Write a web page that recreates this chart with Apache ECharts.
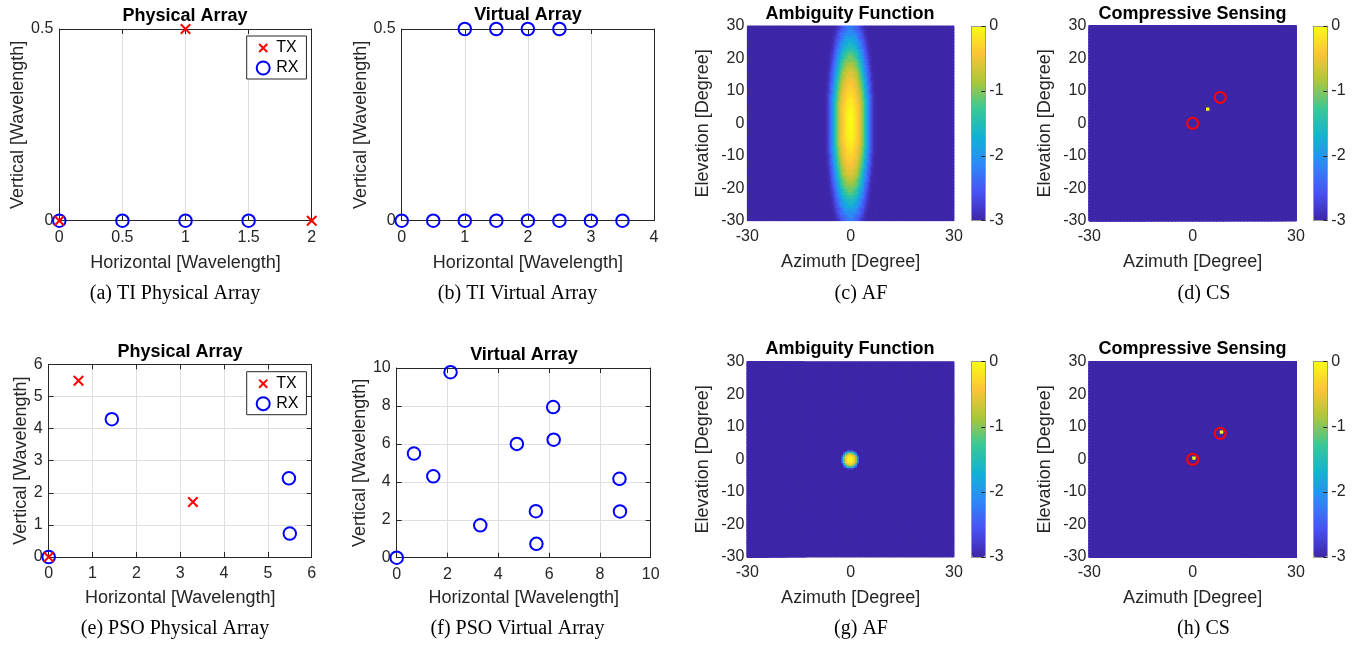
<!DOCTYPE html>
<html><head><meta charset="utf-8">
<script src="https://cdn.jsdelivr.net/npm/echarts@6/dist/echarts.min.js"></script>
<style>html,body{margin:0;padding:0;background:#fff}#c{width:1363px;height:646px}</style>
</head><body><div id="c"></div><script>
// ================= DATA =================
// (a) TI physical array
const tiTxX = [0, 1, 2];
const tiTxY = [0, 0.5, 0];
const tiRxX = [0, 0.5, 1, 1.5];
const tiRxY = [0, 0, 0, 0];
// (b) TI virtual array
const tiVirtX = [0, 0.5, 1, 1.5, 2, 2.5, 3, 3.5, 1, 1.5, 2, 2.5];
const tiVirtY = [0, 0, 0, 0, 0, 0, 0, 0, 0.5, 0.5, 0.5, 0.5];
// (e) PSO physical array
const psoTxX = [0, 0.68, 3.29];
const psoTxY = [0, 5.49, 1.71];
const psoRxX = [0, 1.44, 5.48, 5.50];
const psoRxY = [0, 4.29, 2.45, 0.73];
// (f) PSO virtual array
const psoVirtX = [0, 0.68, 1.44, 2.12, 3.29, 4.73, 5.48, 5.50, 6.16, 6.18, 8.77, 8.79];
const psoVirtY = [0, 5.49, 4.29, 9.78, 1.71, 6.00, 2.45, 0.73, 7.94, 6.22, 4.16, 2.44];

// tick labels
const tiPhysXTicks = [0, 0.5, 1, 1.5, 2];
const tiPhysYTicks = [0, 0.5];
const tiVirtXTicks = [0, 1, 2, 3, 4];
const tiVirtYTicks = [0, 0.5];
const psoPhysXTicks = [0, 1, 2, 3, 4, 5, 6];
const psoPhysYTicks = [0, 1, 2, 3, 4, 5, 6];
const psoVirtXTicks = [0, 2, 4, 6, 8, 10];
const psoVirtYTicks = [0, 2, 4, 6, 8, 10];
const angXTicks = [-30, 0, 30];
const angYTicks = [-30, -20, -10, 0, 10, 20, 30];
const cbTicks = [-3, -2, -1, 0];

// (c) AF of TI array: level vs. elliptical radius (azimuth-equivalent degrees, 0.25 deg bins),
//     contours are ellipses stretched in elevation by afTiElStretch
const afTiProfile = [0, -0.01, -0.03, -0.06, -0.1, -0.15, -0.21, -0.28, -0.35, -0.42, -0.5, -0.58, -0.67, -0.78,
                     -0.9, -1.04, -1.2, -1.38, -1.56, -1.74, -1.92, -2.08, -2.24, -2.39, -2.53, -2.66, -2.78, -2.88,
                     -2.94, -2.98];
const afTiElStretch = [5.2];
// (g) AF of PSO array: level vs. radius (0.25 deg bins)
const afPsoProfile = [0, -0.02, -0.06, -0.13, -0.25, -0.42, -0.65, -1.0, -1.5, -2.1, -2.7];
const afPsoElStretch = [1.07];
// (d),(h) compressive sensing peaks (deg) and true targets
const csTiPeakAz = [4.5];
const csTiPeakEl = [4.5];
const csPsoPeakAz = [0.5, 8.5];
const csPsoPeakEl = [0.5, 8.5];
const targetAz = [0, 8];
const targetEl = [0, 8];
const floorLevel = -3;

// ================= STYLE / LAYOUT =================
const FONT = '"Liberation Sans", Arial, Helvetica, sans-serif';
const SERIF = '"Liberation Serif", "Times New Roman", serif';
const AXC = '#262626';
const CBB = '#9a9a9a';
const PARULA = ['#3e26a8', '#4852f4', '#2e87f7', '#12b1d6', '#37c897', '#abc739', '#fec338', '#f9fb15'];
const CROSS = 'path://M0,0L10,10M0,10L10,0';
const CROSS_LEG = 'path://M-3,-3M0,0L10,10M0,10L10,0M13,13';

const grids = [], xAxes = [], yAxes = [], series = [], visualMaps = [], graphics = [];

const zip = (xs, ys) => xs.map((x, i) => [x, ys[i]]);
const range = t => ({ min: t[0], max: t[t.length - 1], interval: t[1] - t[0] });

function scatterPanel(rect, xt, yt, xGap, yGap, gridX, gridY) {
  const gi = grids.length;
  grids.push({ left: rect[0], top: rect[1], width: rect[2], height: rect[3] });
  const line = { show: true, onZero: false, lineStyle: { color: AXC, width: 1 } };
  const tick = { show: true, inside: true, length: 5, lineStyle: { color: AXC, width: 1 } };
  const lab = { color: AXC, fontFamily: FONT, fontSize: 16 };
  const split = { lineStyle: { color: '#dedede', width: 1 } };
  const nm = { color: AXC, fontFamily: FONT, fontSize: 18 };
  const xi = xAxes.length, yi = yAxes.length;
  xAxes.push(Object.assign({ type: 'value', gridIndex: gi, position: 'bottom' }, range(xt), {
    axisLine: line, axisTick: tick, axisLabel: Object.assign({ margin: 9 }, lab),
    splitLine: Object.assign({ show: gridX }, split),
    name: 'Horizontal [Wavelength]', nameLocation: 'middle', nameGap: xGap, nameTextStyle: nm }));
  xAxes.push(Object.assign({ type: 'value', gridIndex: gi, position: 'top' }, range(xt), {
    axisLine: line, axisTick: tick, axisLabel: { show: false }, splitLine: { show: false } }));
  yAxes.push(Object.assign({ type: 'value', gridIndex: gi, position: 'left' }, range(yt), {
    axisLine: line, axisTick: tick, axisLabel: Object.assign({ margin: 6 }, lab),
    splitLine: Object.assign({ show: gridY }, split),
    name: 'Vertical [Wavelength]', nameLocation: 'middle', nameRotate: 90, nameGap: yGap, nameTextStyle: nm }));
  yAxes.push(Object.assign({ type: 'value', gridIndex: gi, position: 'right' }, range(yt), {
    axisLine: line, axisTick: tick, axisLabel: { show: false }, splitLine: { show: false } }));
  return { xi, yi };
}

function addScatter(ax, name, pts, kind) {
  const isTx = kind === 'tx';
  series.push({
    type: 'scatter', name: name, xAxisIndex: ax.xi, yAxisIndex: ax.yi, data: pts, clip: false, silent: true,
    symbol: isTx ? CROSS : 'circle', symbolSize: isTx ? 9.5 : 12.5,
    itemStyle: { color: 'transparent', borderColor: isTx ? '#ff0000' : '#0000ff', borderWidth: 2, opacity: 1 },
    z: isTx ? 4 : 3
  });
}

function centers(a, b, s) {
  const n = Math.round((b - a) / s), out = [];
  for (let k = 0; k < n; k++) out.push(+(a + (k + 0.5) * s).toFixed(3));
  return out;
}
function profileAt(profile, r) {
  const i = Math.floor(r / 0.25 + 1e-9);
  return i < profile.length ? profile[i] : floorLevel;
}
function afData(azC, elC, profile, stretch) {
  const d = [];
  azC.forEach(az => elC.forEach(el => {
    const r = Math.sqrt(az * az + (el / stretch) * (el / stretch));
    d.push([az, el, Math.max(floorLevel, profileAt(profile, r))]);
  }));
  return d;
}
function csData(azC, elC, pAz, pEl) {
  const d = [];
  azC.forEach(az => elC.forEach(el => {
    let v = floorLevel;
    pAz.forEach((pa, k) => { if (Math.abs(pa - az) < 1e-6 && Math.abs(pEl[k] - el) < 1e-6) v = 0; });
    d.push([az, el, v]);
  }));
  return d;
}
function cellRenderer(dAz, dEl) {
  return function (params, api) {
    const c = api.coord([api.value(0), api.value(1)]);
    const s = api.size([dAz, dEl]);
    return {
      type: 'rect', silent: true,
      shape: { x: c[0] - s[0] / 2 - 0.4, y: c[1] - s[1] / 2 - 0.4, width: s[0] + 0.8, height: s[1] + 0.8 },
      style: { fill: api.visual('color'), stroke: null }
    };
  };
}

function heatPanel(rect, cb, data, dAz, dEl, targets) {
  const g1 = grids.length;
  grids.push({ left: rect[0], top: rect[1], width: rect[2], height: rect[3] });
  const lab = { color: AXC, fontFamily: FONT, fontSize: 16 };
  const nm = { color: AXC, fontFamily: FONT, fontSize: 18 };
  xAxes.push(Object.assign({ type: 'value', gridIndex: g1, position: 'bottom' }, range(angXTicks), {
    axisLine: { show: false }, axisTick: { show: false }, splitLine: { show: false },
    axisLabel: Object.assign({ margin: 8 }, lab),
    name: 'Azimuth [Degree]', nameLocation: 'middle', nameGap: 32, nameTextStyle: nm }));
  yAxes.push(Object.assign({ type: 'value', gridIndex: g1, position: 'left' }, range(angYTicks), {
    axisLine: { show: false }, axisTick: { show: false }, splitLine: { show: false },
    axisLabel: Object.assign({ margin: 3 }, lab),
    name: 'Elevation [Degree]', nameLocation: 'middle', nameRotate: 90, nameGap: 35, nameTextStyle: nm }));
  const ox = xAxes.length - 1, oy = yAxes.length - 1;
  // colorbar frame + ticks
  const g2 = grids.length;
  grids.push({ left: cb[0], top: cb[1], width: cb[2], height: cb[3] });
  const bl = { show: true, onZero: false, lineStyle: { color: CBB, width: 1 } };
  xAxes.push({ type: 'value', gridIndex: g2, min: 0, max: 1, position: 'bottom', axisLine: bl, axisTick: { show: false }, axisLabel: { show: false }, splitLine: { show: false }, z: 10 });
  xAxes.push({ type: 'value', gridIndex: g2, min: 0, max: 1, position: 'top', axisLine: bl, axisTick: { show: false }, axisLabel: { show: false }, splitLine: { show: false }, z: 10 });
  yAxes.push(Object.assign({ type: 'value', gridIndex: g2, position: 'right' }, range(cbTicks), {
    axisLine: bl, axisTick: { show: true, inside: true, length: 4, lineStyle: { color: AXC } },
    axisLabel: Object.assign({ margin: 4 }, lab), splitLine: { show: false }, z: 10 }));
  yAxes.push(Object.assign({ type: 'value', gridIndex: g2, position: 'left' }, range(cbTicks), {
    axisLine: bl, axisTick: { show: false }, axisLabel: { show: false }, splitLine: { show: false }, z: 10 }));
  const si = series.length;
  series.push({ type: 'custom', xAxisIndex: ox, yAxisIndex: oy, data: data, silent: true, clip: true,
    renderItem: cellRenderer(dAz, dEl), encode: { x: 0, y: 1 }, z: 2 });
  visualMaps.push({ type: 'continuous', seriesIndex: si, dimension: 2,
    min: cbTicks[0], max: cbTicks[cbTicks.length - 1],
    inRange: { color: PARULA }, calculable: false, hoverLink: false, orient: 'vertical', padding: 0,
    left: cb[0], top: cb[1], itemWidth: cb[2], itemHeight: cb[3], text: null, show: true });
  if (targets) {
    series.push({ type: 'scatter', xAxisIndex: ox, yAxisIndex: oy, data: targets, clip: false, silent: true,
      symbol: 'circle', symbolSize: 11, z: 5,
      itemStyle: { color: 'transparent', borderColor: '#ff0000', borderWidth: 2, opacity: 1 } });
  }
}

function text(x, y, str, font) {
  graphics.push({ type: 'text', x: x, y: y, silent: true, z: 100,
    style: { text: str, font: font, fill: '#000', textAlign: 'center', textVerticalAlign: 'middle', align: 'center', verticalAlign: 'middle' } });
}

// ================= PANELS =================
const axA = scatterPanel([59.3, 29, 252.4, 191.7], tiPhysXTicks, tiPhysYTicks, 33, 30, true, true);
addScatter(axA, 'RX', zip(tiRxX, tiRxY), 'rx');
addScatter(axA, 'TX', zip(tiTxX, tiTxY), 'tx');

const axB = scatterPanel([401.7, 29, 252.3, 191.7], tiVirtXTicks, tiVirtYTicks, 33, 30, true, true);
addScatter(axB, 'TI Virtual', zip(tiVirtX, tiVirtY), 'rx');

const axE = scatterPanel([48.7, 364.3, 263, 192.7], psoPhysXTicks, psoPhysYTicks, 32, 15, true, true);
addScatter(axE, 'RX', zip(psoRxX, psoRxY), 'rx');
addScatter(axE, 'TX', zip(psoTxX, psoTxY), 'tx');

const axF = scatterPanel([396.7, 368, 254, 189.7], psoVirtXTicks, psoVirtYTicks, 31, 25, true, true);
addScatter(axF, 'PSO Virtual', zip(psoVirtX, psoVirtY), 'rx');

const targets = zip(targetAz, targetEl);
const az05 = centers(-30, 30, 0.5), el1 = centers(-30, 30, 1), az1 = centers(-30, 30, 1), el05 = centers(-30, 30, 0.5);
heatPanel([747.3, 26, 206.7, 194.7], [971.3, 26, 14, 194.7],
  afData(az05, el1, afTiProfile, afTiElStretch[0]), 0.5, 1, null);
heatPanel([1089.3, 26, 206.7, 194.7], [1313.3, 26, 14, 194.7],
  csData(az1, el1, csTiPeakAz, csTiPeakEl), 1, 1, targets);
heatPanel([747.3, 361.7, 206.7, 195.3], [971.3, 361.7, 14, 195.3],
  afData(az05, el05, afPsoProfile, afPsoElStretch[0]), 0.5, 0.5, null);
heatPanel([1089.3, 361.7, 206.7, 195.3], [1313.3, 361.7, 14, 195.3],
  csData(az1, el1, csPsoPeakAz, csPsoPeakEl), 1, 1, targets);

// titles
const TF = 'bold 18px ' + FONT;
text(185, 16, 'Physical Array', TF);
text(528, 15, 'Virtual Array', TF);
text(850, 14, 'Ambiguity Function', TF);
text(1192.5, 14, 'Compressive Sensing', TF);
text(180, 352.5, 'Physical Array', TF);
text(524, 355.5, 'Virtual Array', TF);
text(850, 349, 'Ambiguity Function', TF);
text(1192.5, 349, 'Compressive Sensing', TF);
// captions
const CF = '20px ' + SERIF;
text(175, 294, '(a) TI Physical Array', CF);
text(517.5, 294, '(b) TI Virtual Array', CF);
text(861, 294, '(c) AF', CF);
text(1204, 294, '(d) CS', CF);
text(175, 629, '(e) PSO Physical Array', CF);
text(517.5, 629, '(f) PSO Virtual Array', CF);
text(861, 629, '(g) AF', CF);
text(1203.5, 629, '(h) CS', CF);

const legendItems = [
  { name: 'TX', icon: CROSS_LEG, itemStyle: { color: 'transparent', borderColor: '#ff0000', borderWidth: 2 } },
  { name: 'RX', icon: 'circle', itemStyle: { color: 'transparent', borderColor: '#0000ff', borderWidth: 2 } }
];
const legendBase = { data: legendItems, orient: 'vertical', borderColor: AXC, borderWidth: 1, backgroundColor: '#fff',
  padding: [4, 8, 3, 9], itemWidth: 16, itemHeight: 13, itemGap: 4, selectedMode: false,
  textStyle: { fontFamily: FONT, fontSize: 16, color: '#000' } };

const chart = echarts.init(document.getElementById('c'), null, { renderer: 'canvas' });
chart.setOption({
  animation: false,
  backgroundColor: '#fff',
  textStyle: { fontFamily: FONT },
  grid: grids, xAxis: xAxes, yAxis: yAxes, series: series, visualMap: visualMaps,
  legend: [Object.assign({ left: 246.7, top: 36 }, legendBase), Object.assign({ left: 246.7, top: 371.7 }, legendBase)],
  graphic: graphics
});
</script></body></html>
